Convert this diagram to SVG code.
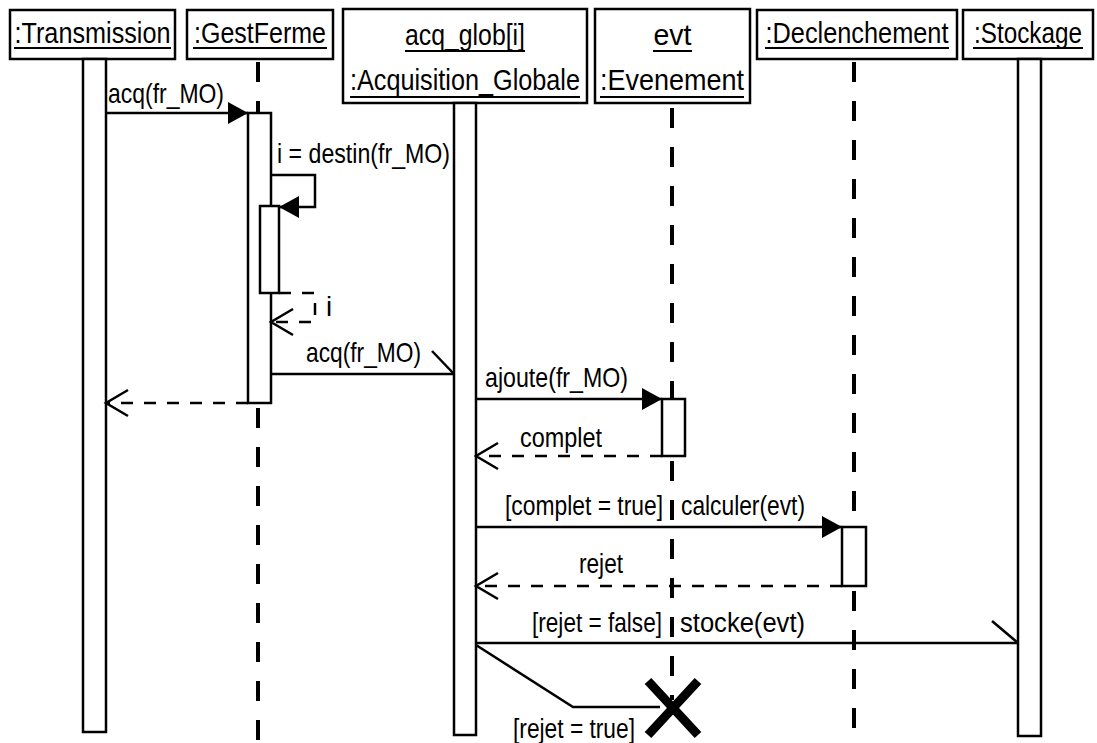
<svg xmlns="http://www.w3.org/2000/svg" width="1097" height="743" viewBox="0 0 1097 743">
<style>
.box{fill:#fff;stroke:#000;stroke-width:2.5}
.bar{fill:#fff;stroke:#000;stroke-width:2.5}
.hdr{font-family:"Liberation Sans",Arial,sans-serif;font-size:29px;text-anchor:middle;fill:#000}
.lbl{font-family:"Liberation Sans",Arial,sans-serif;font-size:27.5px;fill:#000}
.ul{stroke:#000;stroke-width:2}
.life{stroke:#000;stroke-width:4;stroke-dasharray:20 19;fill:none}
.msg{stroke:#000;stroke-width:2.5;fill:none}
.ret{stroke-dasharray:12 11}
</style>
<defs>
<marker id="filled" markerUnits="userSpaceOnUse" markerWidth="22" markerHeight="24" refX="20" refY="11" orient="auto" overflow="visible">
<path d="M0,0 L20,11 L0,22 Z" fill="#000" stroke="none"/>
</marker>
<marker id="open" markerUnits="userSpaceOnUse" markerWidth="26" markerHeight="30" refX="23" refY="14" orient="auto" overflow="visible">
<path d="M1,1 L23,14 L1,27" fill="none" stroke="#000" stroke-width="2.5"/>
</marker>
</defs>
<rect width="1097" height="743" fill="#fff"/>

<g id="transmission">
<rect class="box" x="10" y="10" width="165" height="49"/>
<text class="hdr" x="92.5" y="43" textLength="156" lengthAdjust="spacingAndGlyphs">:Transmission</text>
<line class="ul" x1="14" y1="48" x2="171" y2="48"/>
<rect class="bar" x="83" y="59" width="23" height="673"/>
</g>

<g id="gestferme">
<rect class="box" x="187" y="10" width="146" height="49"/>
<text class="hdr" x="260" y="43" textLength="132" lengthAdjust="spacingAndGlyphs">:GestFerme</text>
<line class="ul" x1="193" y1="48" x2="327" y2="48"/>
<line class="life" x1="258" y1="62" x2="258" y2="113"/>
<line class="life" x1="258" y1="408" x2="258" y2="743"/>
<rect class="bar" x="248" y="113" width="23" height="290"/>
<rect class="bar" x="260" y="206" width="19" height="87"/>
</g>

<g id="acq_glob">
<rect class="box" x="343" y="9" width="244" height="94"/>
<text class="hdr" x="465" y="45" textLength="120" lengthAdjust="spacingAndGlyphs">acq_glob[i]</text>
<line class="ul" x1="405" y1="51" x2="525" y2="51"/>
<text class="hdr" x="465" y="90" textLength="230" lengthAdjust="spacingAndGlyphs">:Acquisition_Globale</text>
<line class="ul" x1="350" y1="97" x2="580" y2="97"/>
<rect class="bar" x="454" y="103" width="22" height="632"/>
</g>

<g id="evt">
<rect class="box" x="595" y="9" width="155" height="94"/>
<text class="hdr" x="672.5" y="45" textLength="38" lengthAdjust="spacingAndGlyphs">evt</text>
<line class="ul" x1="653" y1="51" x2="692" y2="51"/>
<text class="hdr" x="672" y="90" textLength="144" lengthAdjust="spacingAndGlyphs">:Evenement</text>
<line class="ul" x1="600" y1="97" x2="744" y2="97"/>
<line class="life" x1="672" y1="108" x2="672" y2="399"/>
<line class="life" x1="672" y1="461" x2="672" y2="700"/>
<rect class="bar" x="662" y="399" width="23" height="57"/>
<path d="M648,681 L698,735 M698,681 L648,735" stroke="#000" stroke-width="9" fill="none"/>
</g>

<g id="declenchement">
<rect class="box" x="757" y="10" width="200" height="49"/>
<text class="hdr" x="857" y="43" textLength="183" lengthAdjust="spacingAndGlyphs">:Declenchement</text>
<line class="ul" x1="765" y1="48" x2="949" y2="48"/>
<line class="life" x1="854" y1="62" x2="854" y2="527"/>
<line class="life" x1="854" y1="591" x2="854" y2="743"/>
<rect class="bar" x="842" y="527" width="24" height="59"/>
</g>

<g id="stockage">
<rect class="box" x="963" y="10" width="130" height="49"/>
<text class="hdr" x="1028" y="43" textLength="108" lengthAdjust="spacingAndGlyphs">:Stockage</text>
<line class="ul" x1="973" y1="48" x2="1083" y2="48"/>
<rect class="bar" x="1018" y="59" width="23" height="677"/>
</g>

<g id="connectors">
<line class="msg" x1="106" y1="113" x2="248" y2="113" marker-end="url(#filled)"/>
<text class="lbl" x="108" y="103" textLength="116" lengthAdjust="spacingAndGlyphs">acq(fr_MO)</text>

<path class="msg" d="M271,175 H315 V207 H279" marker-end="url(#filled)"/>
<text class="lbl" x="277" y="163" textLength="173" lengthAdjust="spacingAndGlyphs">i = destin(fr_MO)</text>

<path class="msg ret" d="M279,293 H315 V322 H271" marker-end="url(#open)"/>
<text class="lbl" x="326" y="316">i</text>

<line class="msg" x1="271" y1="374" x2="454" y2="374"/>
<line class="msg" x1="454" y1="374" x2="432" y2="351"/>
<text class="lbl" x="306" y="362" textLength="115" lengthAdjust="spacingAndGlyphs">acq(fr_MO)</text>

<line class="msg ret" x1="248" y1="403" x2="106" y2="403" marker-end="url(#open)"/>

<line class="msg" x1="476" y1="399" x2="662" y2="399" marker-end="url(#filled)"/>
<text class="lbl" x="485" y="387" textLength="143" lengthAdjust="spacingAndGlyphs">ajoute(fr_MO)</text>

<line class="msg ret" x1="662" y1="456" x2="476" y2="456" marker-end="url(#open)"/>
<text class="lbl" x="520" y="447" textLength="82" lengthAdjust="spacingAndGlyphs">complet</text>

<line class="msg" x1="476" y1="527" x2="842" y2="527" marker-end="url(#filled)"/>
<text class="lbl" x="505" y="515" textLength="158" lengthAdjust="spacingAndGlyphs">[complet = true]</text>
<text class="lbl" x="681" y="515" textLength="124" lengthAdjust="spacingAndGlyphs">calculer(evt)</text>

<line class="msg ret" x1="842" y1="586" x2="476" y2="586" marker-end="url(#open)"/>
<text class="lbl" x="579" y="573" textLength="44" lengthAdjust="spacingAndGlyphs">rejet</text>

<line class="msg" x1="476" y1="643" x2="1018" y2="643"/>
<line class="msg" x1="1018" y1="643" x2="992" y2="621"/>
<text class="lbl" x="532" y="632" textLength="130" lengthAdjust="spacingAndGlyphs">[rejet = false]</text>
<text class="lbl" x="680" y="632" textLength="125" lengthAdjust="spacingAndGlyphs">stocke(evt)</text>

<path class="msg" d="M476,645 L573,707 H660"/>
<text class="lbl" x="513" y="738" textLength="122" lengthAdjust="spacingAndGlyphs">[rejet = true]</text>
</g>
</svg>
